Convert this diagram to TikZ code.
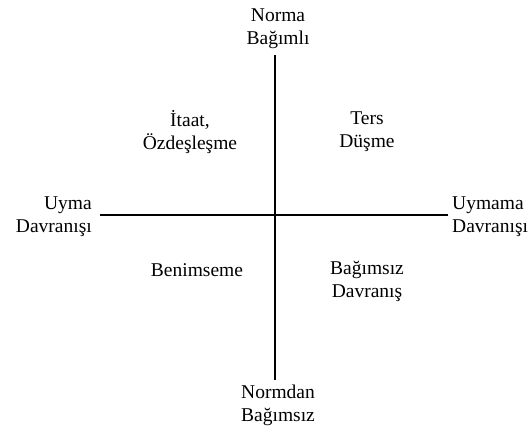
\documentclass[tikz,border=0pt]{standalone}
\usepackage{fontspec}
\setmainfont{Liberation Serif}
\begin{document}
\begin{tikzpicture}[x=1pt,y=-1pt,
  lbl/.style={inner sep=0pt,font=\fontsize{19.5}{23}\selectfont},
  axis/.style={line width=1.1pt,black}]
\useasboundingbox (0,0) rectangle (530,434);
\coordinate (vt) at (275,55);
\coordinate (vb) at (275,380);
\coordinate (hl) at (100,215);
\coordinate (hr) at (448,215);
\draw[axis] (vt) -- (vb);
\draw[axis] (hl) -- (hr);
\node[lbl,align=center] (top) at (278,29) {Norma\\Bağımlı};
\node[lbl,align=center] (bot) at (278,405) {Normdan\\Bağımsız};
\node[lbl,align=right,anchor=east] (left) at (92,217) {Uyma\\Davranışı};
\node[lbl,align=left,anchor=west] (right) at (452,217) {Uymama\\Davranışı};
\node[lbl,align=center] (q1) at (190,132) {İtaat,\\Özdeşleşme};
\node[lbl,align=center] (q2) at (367,132) {Ters\\Düşme};
\node[lbl,align=center] (q3) at (197,270) {Benimseme};
\node[lbl,align=center] (q4) at (367,281) {Bağımsız\\Davranış};
\end{tikzpicture}
\end{document}
